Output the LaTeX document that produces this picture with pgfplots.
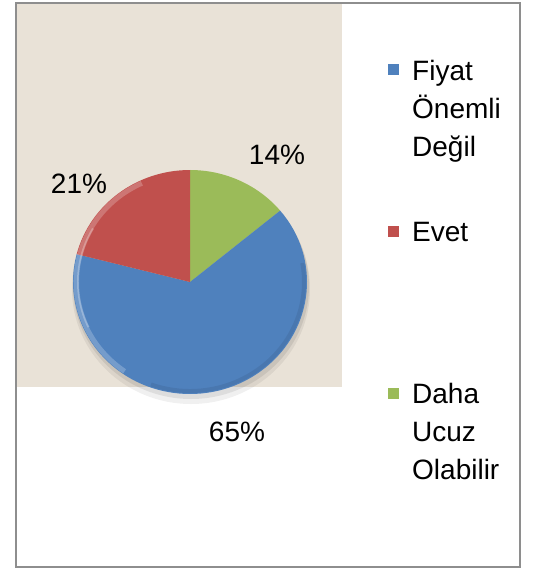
\documentclass[border=0pt]{standalone}
\usepackage{pgfplots}
\pgfplotsset{compat=1.18}
\usepackage{pgfplotstable}
\usepackage{fontspec}
\setmainfont{Liberation Sans}
\definecolor{pieblue}{HTML}{4F81BD}
\definecolor{piered}{HTML}{C0504D}
\definecolor{piegreen}{HTML}{9BBB59}
\definecolor{bgbeige}{HTML}{E9E2D7}
\definecolor{framegray}{HTML}{8E8E8E}

\pgfplotstableread{
label value
Fiyat 65
Evet 21
Daha 14
}\pietable

\begin{document}
\begin{tikzpicture}[txt/.style={font=\fontsize{28}{34}\selectfont, inner sep=0pt}]
\pgfplotstablegetelem{0}{value}\of\pietable \let\vb\pgfplotsretval
\pgfplotstablegetelem{1}{value}\of\pietable \let\vr\pgfplotsretval
\pgfplotstablegetelem{2}{value}\of\pietable \let\vg\pgfplotsretval
\pgfmathsetmacro\ag{90-\vg*3.6}
\pgfmathsetmacro\ab{\ag-\vb*3.6}
\pgfmathsetmacro\ar{\ab-\vr*3.6}
\begin{axis}[x=1pt, y=1pt, y dir=reverse, xmin=0, xmax=533, ymin=0, ymax=569,
  hide axis, clip=false, scale only axis]
% full canvas
\path (axis cs:0,0) rectangle (axis cs:533,569);
% plot area background
\fill[bgbeige] (axis cs:16,3) rectangle (axis cs:342,387);
% shadow
\fill[black, opacity=0.06] (axis cs:191,289) ellipse[x radius=119pt, y radius=115pt];
\fill[black, opacity=0.08] (axis cs:191,286) ellipse[x radius=118pt, y radius=113pt];
% slices
\fill[piegreen] (axis cs:190,282) -- ++(90:117pt and 112pt) arc[start angle=90, end angle=\ag, x radius=117pt, y radius=112pt] -- cycle;
\fill[pieblue] (axis cs:190,282) -- ++(\ag:117pt and 112pt) arc[start angle=\ag, end angle=\ab, x radius=117pt, y radius=112pt] -- cycle;
\fill[piered] (axis cs:190,282) -- ++(\ab:117pt and 112pt) arc[start angle=\ab, end angle=\ar, x radius=117pt, y radius=112pt] -- cycle;
% bevel highlight / rim
\draw[white, opacity=0.22, line width=5pt] (axis cs:190,282) ++(115:114pt and 109pt) arc[start angle=115, end angle=235, x radius=114pt, y radius=109pt];
\draw[white, opacity=0.25, line width=2pt] (axis cs:190,282) ++(150:112pt and 107pt) arc[start angle=150, end angle=205, x radius=112pt, y radius=107pt];
\draw[black, opacity=0.07, line width=4pt] (axis cs:190,282) ++(-110:114pt and 109pt) arc[start angle=-110, end angle=10, x radius=114pt, y radius=109pt];
% data labels
\node[txt] at (axis cs:277,155) {14\%};
\node[txt] at (axis cs:79,184) {21\%};
\node[txt] at (axis cs:237,432) {65\%};
% legend
\fill[pieblue] (axis cs:387.5,64.5) rectangle (axis cs:398.5,75.5);
\node[txt, anchor=base west] at (axis cs:412,81) {Fiyat};
\node[txt, anchor=base west] at (axis cs:412,119) {Önemli};
\node[txt, anchor=base west] at (axis cs:412,157) {Değil};
\fill[piered] (axis cs:387.5,225.5) rectangle (axis cs:398.5,236.5);
\node[txt, anchor=base west] at (axis cs:412,241) {Evet};
\fill[piegreen] (axis cs:387.5,387.5) rectangle (axis cs:398.5,398.5);
\node[txt, anchor=base west] at (axis cs:412,403) {Daha};
\node[txt, anchor=base west] at (axis cs:412,441) {Ucuz};
\node[txt, anchor=base west] at (axis cs:412,479) {Olabilir};
% chart frame
\draw[framegray, line width=1.5pt] (axis cs:16,3) rectangle (axis cs:520,567);
\end{axis}
\end{tikzpicture}
\end{document}
